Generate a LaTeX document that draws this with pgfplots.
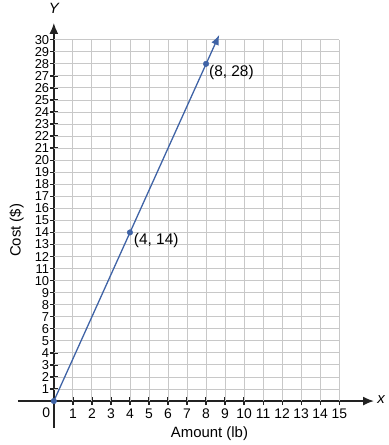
\documentclass[border=0pt]{standalone}
\usepackage{fontspec}
\setmainfont{Liberation Sans}
\usepackage{pgfplots}
\pgfplotsset{compat=1.18}
\usetikzlibrary{arrows.meta}
\definecolor{lineblue}{HTML}{3F63A6}
\definecolor{gridgray}{HTML}{C8C8C8}
\definecolor{axisgray}{HTML}{222222}
\begin{document}
\begin{tikzpicture}
\begin{axis}[
 x=19.07bp, y=12.07bp,
 xmin=-1.89, xmax=16.83, ymin=-2.24, ymax=31.4,
 axis lines=middle,
 axis line style={axisgray, line width=1.8bp, -{Latex[length=11bp,width=9bp]}},
 xtick={1,...,15}, ytick={1,...,30},
 tick align=center, major tick length=8bp,
 tick style={line width=1.3bp, axisgray},
 xticklabel style={font=\fontsize{14}{14}\selectfont, inner sep=0.5bp, yshift=-3bp},
 yticklabel style={font=\fontsize{13}{13}\selectfont, inner sep=0pt, xshift=-0.5bp},
 /pgf/number format/assume math mode=true,
 clip=false,
]
\pgfplotsinvokeforeach{1,...,15}{\draw[gridgray, line width=0.9bp] (axis cs:#1,0) -- (axis cs:#1,30);}
\pgfplotsinvokeforeach{1,...,30}{\draw[gridgray, line width=0.9bp] (axis cs:0,#1) -- (axis cs:15,#1);}
\addplot[lineblue, line width=1.3bp, -{Latex[length=10bp,width=8bp]}] coordinates {(0,0) (8.69,30.4)};
\addplot[only marks, mark=*, mark size=2.8bp, lineblue] coordinates {(0,0) (4,14) (8,28)};
\node[anchor=west, font=\fontsize{15.5}{15.5}\selectfont, inner sep=0pt] at (axis cs:4.2,13.34) {(4, 14)};
\node[anchor=west, font=\fontsize{15.5}{15.5}\selectfont, inner sep=0pt] at (axis cs:8.15,27.26) {(8, 28)};
\node[font=\fontsize{14}{14}\selectfont] at (axis cs:-0.4,-1.0) {0};
\node[font=\fontsize{15}{15}\selectfont\itshape] at (axis cs:0,32.6) {Y};
\node[font=\fontsize{15}{15}\selectfont\itshape] at (axis cs:17.2,0.1) {x};
\node[font=\fontsize{15}{15}\selectfont] at (axis cs:8.18,-2.7) {Amount (lb)};
\node[font=\fontsize{15}{15}\selectfont, rotate=90] at (axis cs:-1.95,14.17) {Cost (\$)};
\path (axis cs:-2.83,-3.65) rectangle (axis cs:17.57,33.22);
\end{axis}
\end{tikzpicture}
\end{document}
